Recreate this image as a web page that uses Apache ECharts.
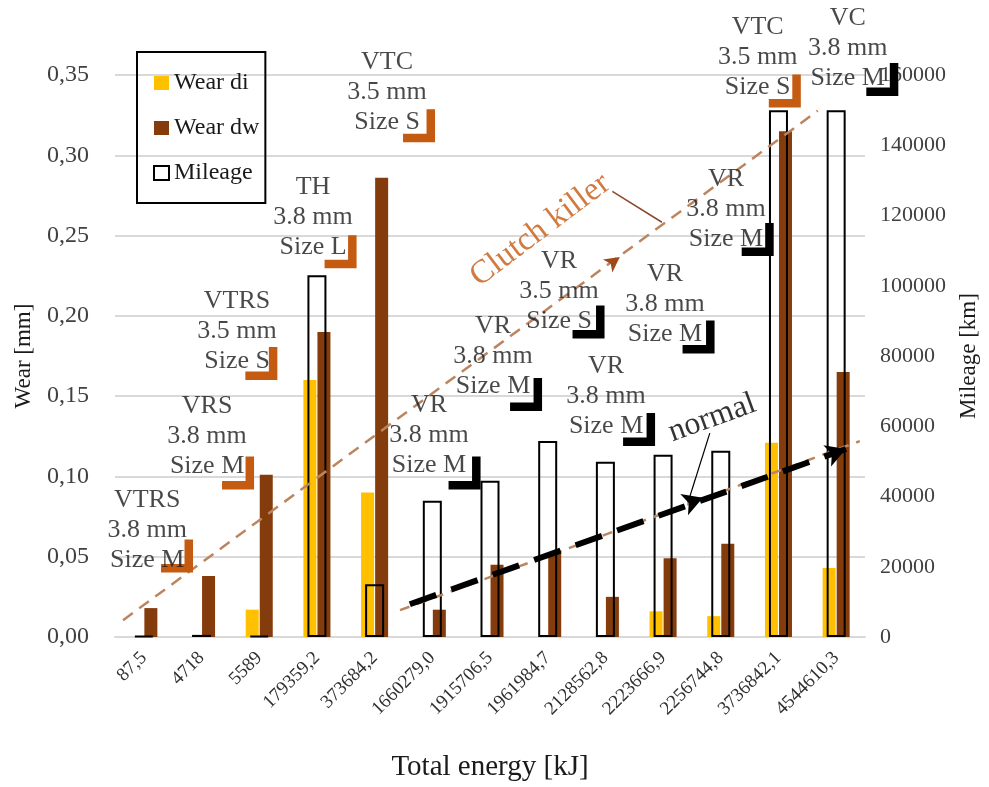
<!DOCTYPE html>
<html><head><meta charset="utf-8">
<script src="https://cdn.jsdelivr.net/npm/echarts@6/dist/echarts.min.js"></script>
<style>html,body{margin:0;padding:0;background:#fff}#c{width:989px;height:787px}</style>
</head><body><div id="c"></div>
<script>
// ---- data ----
const categories = ['87,5','4718','5589','179359,2','373684,2','1660279,0','1915706,5','1961984,7','2128562,8','2223666,9','2256744,8','3736842,1','4544610,3'];
const wearDi  = [0, 0, 0.017, 0.160, 0.090, 0, 0, 0, 0, 0.016, 0.013, 0.121, 0.043];
const wearDw  = [0.018, 0.038, 0.101, 0.190, 0.286, 0.017, 0.045, 0.052, 0.025, 0.049, 0.058, 0.315, 0.165];
const mileage = [300, 600, 300, 103000, 15000, 38800, 44500, 55800, 49900, 51900, 53000, 150000, 150000];
const wearTicks = [0, 0.05, 0.10, 0.15, 0.20, 0.25, 0.30, 0.35];
const mileageTicks = [0, 20000, 40000, 60000, 80000, 100000, 120000, 140000, 160000];

// annotation texts (labels of clutch types)
const annoText = ['VTRS\n3.8 mm\nSize M','VRS\n3.8 mm\nSize M','VTRS\n3.5 mm\nSize S','TH\n3.8 mm\nSize L','VTC\n3.5 mm\nSize S',
  'VR\n3.8 mm\nSize M','VR\n3.8 mm\nSize M','VR\n3.5 mm\nSize S','VR\n3.8 mm\nSize M','VR\n3.8 mm\nSize M','VR\n3.8 mm\nSize M',
  'VTC\n3.5 mm\nSize S','VC\n3.8 mm\nSize M'];
const annoGroup = ['o','o','o','o','o','k','k','k','k','k','k','o','k'];
// annotation anchors in data units [category position, wear]
const annoAt = [[0.057,0.0663],[1.096,0.1251],[1.616,0.1902],[2.933,0.2614],[4.216,0.3395],[4.943,0.1258],[6.053,0.1747],
  [7.197,0.2156],[8.012,0.1499],[9.034,0.2075],[10.09,0.2664],[10.64,0.3612],[12.2,0.3667]];
const markAt = [[0.575,0.0505],[1.633,0.1022],[2.037,0.1704],[3.41,0.2400],[4.77,0.3184],[5.559,0.1022],[6.625,0.1511],
  [7.708,0.1961],[8.584,0.1292],[9.615,0.1868],[10.64,0.2475],[11.11,0.3401],[12.80,0.3472]];
// trend lines (data units)
const clutchLine   = [[-0.36,0.0105],[11.68,0.3277]];
const normalLine   = [[4.61,0.0204],[12.17,0.1171]];
const normalTrend  = [[4.44,0.0167],[12.41,0.1220]];
const clutchLeader = [[8.12,0.2775],[8.98,0.2583]];
const normalLeader = [[9.81,0.1270],[9.43,0.0836]];
const clutchArrow  = [[8.25,0.2366]];
const normalArrows = [[9.69,0.0867],[12.17,0.1171]];
const clutchLabelAt = [6.87,0.2534];
const normalLabelAt = [9.85,0.1363];

// ---- chart ----
const FONT = "'Liberation Serif', 'DejaVu Serif', serif";
const ORANGE = '#C55A11';
const TXT = '#1a1a1a';
const chart = echarts.init(document.getElementById('c'), null, {renderer:'canvas'});
const grid = {left:115, right:124, top:75, bottom:147};

const option = {
  animation:false,
  backgroundColor:'#fff',
  grid: grid,
  legend: {
    data:['Wear di','Wear dw','Mileage'],
    orient:'vertical', left:137, top:52,
    borderColor:'#000', borderWidth:2, padding:[18,6,17,16],
    itemGap:19, itemWidth:15, itemHeight:14, icon:'rect',
    textStyle:{fontFamily:FONT, fontSize:24, color:TXT, lineHeight:26}
  },
  xAxis: [
    {type:'category', data:categories, gridIndex:0,
     axisLine:{lineStyle:{color:'#D9D9D9', width:2}}, axisTick:{show:false},
     axisLabel:{rotate:45, fontFamily:FONT, fontSize:19, color:'#303030', margin:18, interval:0},
     name:'Total energy [kJ]', nameLocation:'middle', nameGap:116,
     nameTextStyle:{fontFamily:FONT, fontSize:29, color:TXT}},
    {type:'category', data:categories, show:false},
    {type:'value', min:-0.5, max:12.5, show:false}
  ],
  yAxis: [
    {type:'value', min:0, max:0.35, interval:0.05,
     axisLine:{show:false}, axisTick:{show:false},
     splitLine:{lineStyle:{color:'#D9D9D9', width:2}},
     axisLabel:{fontFamily:FONT, fontSize:24, color:'#404040', margin:26,
       formatter:v=>v.toFixed(2).replace('.',',')},
     name:'Wear [mm]', nameLocation:'middle', nameGap:80, nameRotate:90,
     nameTextStyle:{fontFamily:FONT, fontSize:23, color:TXT}},
    {type:'value', min:0, max:160000, interval:20000, position:'right',
     axisLine:{show:false}, axisTick:{show:false}, splitLine:{show:false},
     axisLabel:{fontFamily:FONT, fontSize:22, color:'#404040', margin:15, formatter:v=>String(v)},
     name:'Mileage [km]', nameLocation:'middle', nameGap:92, nameRotate:90,
     nameTextStyle:{fontFamily:FONT, fontSize:23, color:TXT}}
  ],
  series: [
    {name:'Wear di', type:'bar', xAxisIndex:0, yAxisIndex:0, data:wearDi, barWidth:13, barGap:'8%',
     itemStyle:{color:'#FFC000'}, z:2},
    {name:'Wear dw', type:'bar', xAxisIndex:0, yAxisIndex:0, data:wearDw, barWidth:13, barGap:'8%',
     itemStyle:{color:'#843C0C'}, z:2},
    {name:'Mileage', type:'bar', xAxisIndex:1, yAxisIndex:1, data:mileage, barWidth:19,
     itemStyle:{color:'rgba(255,255,255,0)', borderColor:'#000', borderWidth:2}, z:3},
    // trend lines
    {name:'clutchLine', type:'line', xAxisIndex:2, yAxisIndex:0, data:clutchLine, symbol:'none', clip:false, z:5,
     lineStyle:{color:'#BC8560', width:2.5, type:[12,8]}},
    {name:'normalTrend', type:'line', xAxisIndex:2, yAxisIndex:0, data:normalTrend, symbol:'none', clip:false, z:5,
     lineStyle:{color:'#BC8560', width:2.5, type:[10,8]}},
    {name:'normalLine', type:'line', xAxisIndex:2, yAxisIndex:0, data:normalLine, symbol:'none', clip:false, z:6,
     lineStyle:{color:'#000', width:6, type:[28,16]}},
    {name:'clutchLeader', type:'line', xAxisIndex:2, yAxisIndex:0, data:clutchLeader, symbol:'none', clip:false, z:6,
     lineStyle:{color:'#8B4A2A', width:1.5}},
    {name:'normalLeader', type:'line', xAxisIndex:2, yAxisIndex:0, data:normalLeader, symbol:'none', clip:false, z:6,
     lineStyle:{color:'#000', width:1.2}},
    {name:'clutchArrow', type:'scatter', xAxisIndex:2, yAxisIndex:0, clip:false, z:7,
     data:clutchArrow.map(p=>({value:p, symbolRotate:-54})), symbol:'arrow', symbolSize:[12,15],
     itemStyle:{color:'#A0481A', opacity:1}},
    {name:'normalArrows', type:'scatter', xAxisIndex:2, yAxisIndex:0, clip:false, z:7,
     data:normalArrows.map(p=>({value:p, symbolRotate:-70})), symbol:'arrow', symbolSize:[17,20],
     itemStyle:{color:'#000', opacity:1}},
    // bracket markers
    {name:'brackets', type:'scatter', xAxisIndex:2, yAxisIndex:0, clip:false, z:8,
     symbol:'path://M23.5,0L32,0L32,33L0,33L0,24.5L23.5,24.5Z', symbolSize:[32,33],
     data:markAt.map((p,i)=>({value:p, itemStyle:{color: annoGroup[i]==='o'?ORANGE:'#000', opacity:1}}))},
    // annotation texts
    {name:'annoText', type:'scatter', xAxisIndex:2, yAxisIndex:0, clip:false, z:9, symbolSize:0,
     data:annoText.map((t,i)=>({value:annoAt[i], name:t})),
     label:{show:true, position:'inside', formatter:'{b}', fontFamily:FONT, fontSize:26, lineHeight:30, color:TXT}},
    {name:'trendLabels', type:'scatter', xAxisIndex:2, yAxisIndex:0, clip:false, z:9, symbolSize:0,
     data:[
       {value:clutchLabelAt, name:'Clutch killer', label:{rotate:37, fontSize:33, color:ORANGE}},
       {value:normalLabelAt, name:'normal', label:{rotate:20, fontSize:32, color:'#000'}}
     ],
     label:{show:true, position:'inside', formatter:'{b}', fontFamily:FONT}}
  ]
};
chart.setOption(option);
</script>
</body></html>
